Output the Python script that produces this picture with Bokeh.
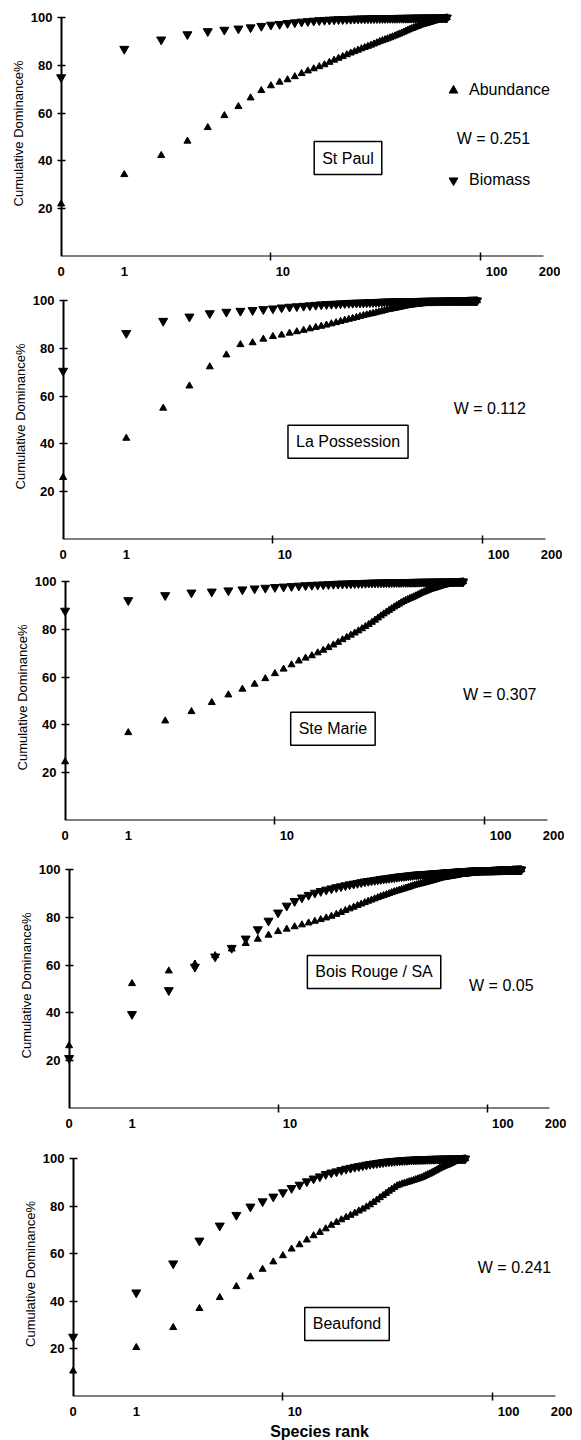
import math
import numpy as np
from bokeh.plotting import figure
from bokeh.layouts import column, row
from bokeh.models import (FixedTicker, Label, Legend, LegendItem, Range1d,
                          LinearAxis, LogAxis, Spacer)
from bokeh.embed import file_html
from bokeh.resources import INLINE

# ---------------- data ----------------
sites = ["St Paul", "La Possession", "Ste Marie", "Bois Rouge / SA", "Beaufond"]
w_values = ["0.251", "0.112", "0.307", "0.05", "0.241"]

abund_st_paul = [22.0, 34.3, 42.3, 48.3, 54.0, 59.0, 62.8, 66.4, 69.5, 71.5,
                 73.0, 74.0, 75.3, 76.6, 77.7, 78.6, 79.5, 80.3, 81.3, 82.2,
                 83.0, 83.7, 84.5, 85.2, 85.8, 86.4, 87.0, 87.5, 88.0, 88.5,
                 89.0, 89.5, 90.0, 90.4, 90.8, 91.2, 91.6, 92.0, 92.4, 92.8,
                 93.2, 93.6, 94.0, 94.4, 94.8, 95.2, 95.5, 95.8, 96.1, 96.4,
                 96.7, 97.0, 97.2, 97.4, 97.6, 97.8, 98.0, 98.2, 98.4, 98.6,
                 98.8, 99.0, 99.2, 99.4, 99.5, 99.6, 99.7, 99.85, 100.0]
biom_st_paul = [75.0, 86.9, 90.8, 93.0, 94.3, 94.9, 95.4, 95.9, 96.5, 97.0,
                97.3, 97.7, 98.0, 98.3, 98.5, 98.7, 98.9, 99.0, 99.1, 99.2,
                99.3, 99.35, 99.4, 99.45, 99.5, 99.55, 99.6, 99.62, 99.65, 99.68,
                99.7, 99.72, 99.74, 99.76, 99.78, 99.8, 99.81, 99.82, 99.83, 99.84,
                99.85, 99.86, 99.87, 99.88, 99.89, 99.9, 99.91, 99.92, 99.93, 99.94,
                99.95, 99.95, 99.96, 99.96, 99.97, 99.97, 99.98, 99.98, 99.98, 99.99,
                99.99, 99.99, 99.99, 100.0, 100.0, 100.0, 100.0, 100.0, 100.0]

abund_la_possession = [26.0, 42.4, 55.0, 64.3, 72.3, 77.3, 81.6, 82.4, 83.9, 85.0,
                       85.6, 86.4, 87.0, 87.6, 88.2, 88.8, 89.3, 89.8, 90.3, 90.8,
                       91.3, 91.8, 92.2, 92.6, 93.0, 93.4, 93.8, 94.1, 94.4, 94.7,
                       95.0, 95.3, 95.6, 95.9, 96.2, 96.4, 96.6, 96.8, 97.0, 97.2,
                       97.4, 97.6, 97.8, 98.0, 98.1, 98.2, 98.3, 98.4, 98.5, 98.6,
                       98.7, 98.8, 98.85, 98.9, 98.95, 99.0, 99.05, 99.1, 99.15, 99.2,
                       99.25, 99.3, 99.33, 99.36, 99.4, 99.43, 99.46, 99.5, 99.53, 99.56,
                       99.6, 99.62, 99.64, 99.66, 99.68, 99.7, 99.72, 99.74, 99.76, 99.78,
                       99.8, 99.82, 99.84, 99.86, 99.88, 99.9, 99.92, 99.94, 99.96, 99.97,
                       99.98, 99.99, 100.0, 100.0]
biom_la_possession = [70.6, 86.4, 91.5, 93.3, 94.7, 95.3, 95.7, 96.0, 96.4, 96.7,
                      97.1, 97.4, 97.6, 97.8, 98.0, 98.2, 98.4, 98.5, 98.6, 98.7,
                      98.8, 98.9, 99.0, 99.05, 99.1, 99.15, 99.2, 99.25, 99.3, 99.35,
                      99.4, 99.45, 99.5, 99.53, 99.56, 99.6, 99.62, 99.64, 99.66, 99.68,
                      99.7, 99.72, 99.74, 99.76, 99.78, 99.8, 99.81, 99.82, 99.83, 99.84,
                      99.85, 99.86, 99.87, 99.88, 99.89, 99.9, 99.9, 99.91, 99.91, 99.92,
                      99.92, 99.93, 99.93, 99.94, 99.94, 99.95, 99.95, 99.96, 99.96, 99.96,
                      99.97, 99.97, 99.97, 99.97, 99.97, 99.98, 99.98, 99.98, 99.98, 99.98,
                      99.98, 99.99, 99.99, 99.99, 99.99, 99.99, 99.99, 100.0, 100.0, 100.0,
                      100.0, 100.0, 100.0, 100.0]

abund_ste_marie = [24.6, 36.8, 41.7, 45.6, 49.4, 52.6, 55.0, 57.1, 59.4, 61.5,
                   63.4, 65.2, 66.8, 68.0, 69.0, 70.2, 71.3, 72.4, 73.5, 74.6,
                   75.7, 76.7, 77.6, 78.5, 79.4, 80.3, 81.2, 82.1, 83.0, 83.9,
                   84.8, 85.7, 86.5, 87.3, 88.0, 88.7, 89.4, 90.0, 90.6, 91.2,
                   91.7, 92.2, 92.6, 93.0, 93.3, 93.7, 94.1, 94.5, 94.9, 95.3,
                   95.6, 95.9, 96.2, 96.5, 96.8, 97.0, 97.2, 97.4, 97.6, 97.8,
                   98.0, 98.2, 98.4, 98.55, 98.7, 98.85, 99.0, 99.1, 99.2, 99.3,
                   99.4, 99.5, 99.6, 99.7, 99.75, 99.8, 99.9, 99.95, 100.0]
biom_ste_marie = [87.8, 92.2, 94.3, 95.4, 95.8, 96.3, 96.7, 97.1, 97.4, 97.7,
                  97.9, 98.1, 98.3, 98.45, 98.6, 98.7, 98.8, 98.9, 99.0, 99.1,
                  99.15, 99.2, 99.25, 99.3, 99.35, 99.4, 99.45, 99.5, 99.53, 99.56,
                  99.6, 99.62, 99.64, 99.66, 99.68, 99.7, 99.72, 99.74, 99.76, 99.78,
                  99.8, 99.81, 99.82, 99.83, 99.84, 99.85, 99.86, 99.87, 99.88, 99.89,
                  99.9, 99.9, 99.91, 99.91, 99.92, 99.92, 99.93, 99.93, 99.94, 99.94,
                  99.95, 99.95, 99.96, 99.96, 99.97, 99.97, 99.98, 99.98, 99.98, 99.99,
                  99.99, 99.99, 99.99, 100.0, 100.0, 100.0, 100.0, 100.0, 100.0]

abund_bois_rouge = [26.3, 52.3, 57.6, 60.5, 64.0, 66.8, 69.1, 70.9, 72.6, 74.1,
                    75.1, 76.1, 76.9, 77.7, 78.4, 79.1, 79.8, 80.5, 81.3, 82.1,
                    82.9, 83.6, 84.3, 85.0, 85.6, 86.2, 86.8, 87.3, 87.8, 88.3,
                    88.8, 89.2, 89.6, 90.0, 90.4, 90.8, 91.1, 91.4, 91.7, 92.0,
                    92.3, 92.6, 92.9, 93.2, 93.5, 93.7, 93.9, 94.1, 94.3, 94.5,
                    94.7, 94.9, 95.1, 95.3, 95.5, 95.7, 95.9, 96.1, 96.3, 96.5,
                    96.6, 96.7, 96.8, 96.9, 97.0, 97.1, 97.2, 97.3, 97.4, 97.5,
                    97.6, 97.7, 97.8, 97.9, 98.0, 98.05, 98.1, 98.15, 98.2, 98.25,
                    98.3, 98.35, 98.4, 98.45, 98.5, 98.55, 98.6, 98.65, 98.7, 98.75,
                    98.8, 98.85, 98.9, 98.93, 98.96, 99.0, 99.03, 99.06, 99.09, 99.12,
                    99.15, 99.18, 99.21, 99.24, 99.27, 99.3, 99.33, 99.36, 99.39, 99.42,
                    99.45, 99.48, 99.5, 99.52, 99.54, 99.56, 99.58, 99.6, 99.62, 99.64,
                    99.66, 99.68, 99.7, 99.72, 99.74, 99.76, 99.78, 99.8, 99.82, 99.84,
                    99.86, 99.88, 99.9, 99.91, 99.92, 99.93, 99.94, 99.95, 99.96, 99.97,
                    99.98, 99.98, 99.99, 99.99, 100.0, 100.0]
biom_bois_rouge = [21.1, 39.5, 49.5, 59.3, 63.6, 67.2, 71.1, 75.0, 78.6, 82.0,
                   84.9, 86.8, 88.3, 89.4, 90.3, 91.0, 91.6, 92.1, 92.6, 93.0,
                   93.4, 93.8, 94.1, 94.4, 94.7, 95.0, 95.2, 95.4, 95.6, 95.8,
                   96.0, 96.2, 96.35, 96.5, 96.65, 96.8, 96.95, 97.1, 97.2, 97.3,
                   97.4, 97.5, 97.6, 97.7, 97.8, 97.9, 97.95, 98.0, 98.05, 98.1,
                   98.15, 98.2, 98.25, 98.3, 98.35, 98.4, 98.45, 98.5, 98.55, 98.6,
                   98.65, 98.7, 98.75, 98.8, 98.84, 98.88, 98.92, 98.96, 99.0, 99.04,
                   99.08, 99.12, 99.16, 99.2, 99.23, 99.26, 99.29, 99.32, 99.35, 99.38,
                   99.41, 99.44, 99.47, 99.5, 99.52, 99.54, 99.56, 99.58, 99.6, 99.62,
                   99.64, 99.66, 99.68, 99.7, 99.71, 99.72, 99.73, 99.74, 99.75, 99.76,
                   99.77, 99.78, 99.79, 99.8, 99.81, 99.82, 99.83, 99.84, 99.85, 99.86,
                   99.87, 99.88, 99.89, 99.9, 99.9, 99.91, 99.91, 99.92, 99.92, 99.93,
                   99.93, 99.94, 99.94, 99.95, 99.95, 99.96, 99.96, 99.97, 99.97, 99.97,
                   99.98, 99.98, 99.98, 99.98, 99.98, 99.99, 99.99, 99.99, 99.99, 99.99,
                   99.99, 100.0, 100.0, 100.0, 100.0, 100.0]

abund_beaufond = [10.7, 20.6, 29.0, 37.0, 41.6, 46.2, 50.3, 53.5, 56.6, 59.2,
                  62.0, 63.8, 65.8, 67.6, 69.0, 70.5, 72.0, 73.2, 74.3, 75.3,
                  76.2, 77.1, 78.0, 78.8, 79.7, 80.6, 81.6, 82.6, 83.6, 84.5,
                  85.4, 86.3, 87.1, 87.9, 88.6, 89.0, 89.4, 89.7, 90.0, 90.3,
                  90.6, 90.9, 91.2, 91.5, 91.8, 92.1, 92.5, 92.9, 93.3, 93.6,
                  94.0, 94.4, 94.8, 95.2, 95.6, 96.0, 96.3, 96.6, 96.9, 97.1,
                  97.4, 97.7, 98.0, 98.3, 98.6, 98.8, 99.0, 99.2, 99.4, 99.6,
                  99.75, 99.85, 99.95, 100.0]
biom_beaufond = [25.1, 43.7, 55.9, 65.5, 71.8, 76.3, 79.8, 82.0, 84.0, 85.8,
                 87.6, 89.0, 90.4, 91.6, 92.5, 93.5, 94.1, 94.6, 95.2, 95.7,
                 96.1, 96.5, 96.8, 97.1, 97.4, 97.7, 97.9, 98.1, 98.3, 98.5,
                 98.65, 98.8, 98.9, 99.0, 99.1, 99.2, 99.27, 99.34, 99.41, 99.48,
                 99.5, 99.55, 99.6, 99.64, 99.68, 99.72, 99.75, 99.78, 99.8, 99.82,
                 99.84, 99.86, 99.87, 99.88, 99.89, 99.9, 99.91, 99.92, 99.93, 99.94,
                 99.95, 99.95, 99.96, 99.96, 99.97, 99.97, 99.98, 99.98, 99.99, 99.99,
                 100.0, 100.0, 100.0, 100.0]

abundance = [abund_st_paul, abund_la_possession, abund_ste_marie, abund_bois_rouge, abund_beaufond]
biomass = [biom_st_paul, biom_la_possession, biom_ste_marie, biom_bois_rouge, biom_beaufond]

x_tick_labels = ["0", "1", "10", "100", "200"]
y_ticks = [20, 40, 60, 80, 100]

# ---------------- layout / styling ----------------
FONT = "Liberation Sans"
X_START, X_END = 0.93, 240.0
Y_END = 103.0
LEFT = 50  # left border of every figure (room for y labels)
# where the printed x labels sit on the rank scale (as in the original figure)
x_label_pos = [1, 2, 11.4, 119, 230]
x_marks = [10, 100]

# (axis x px, px per decade, frame bottom px, figure top px, figure bottom px, frame height)
geom = [
    (61, 210, 256, 0, 282, 246),
    (63, 210, 539, 282, 565, 246),
    (65, 210, 820, 565, 848, 246),
    (69, 209, 1108, 848, 1135, 246),
    (73, 210, 1396, 1135, 1440, 245),
]
# annotation positions (rank, value) for site box and W text
box_pos = [(23.3, 41.2), (22.8, 40.9), (18.9, 38.4), (28.8, 57.2), (20.2, 30.5)]
w_pos = [(115, 49.4), (108, 54.7), (118, 52.6), (117, 51.4), (127, 54.1)]

rows = []
for i in range(5):
    ax_px, dec, fb, ftop, fbot, fh = geom[i]
    mbb = fbot - fb
    mbt = (fb - fh) - ftop
    frame_left = ax_px - dec * (-math.log10(X_START))
    shift = max(int(round(frame_left - LEFT)), 0)
    fw = int(round(dec * (math.log10(X_END) - math.log10(X_START))))

    p = figure(frame_width=fw, frame_height=fh, x_axis_type="log",
               x_range=Range1d(X_START, X_END), y_range=Range1d(0, Y_END),
               output_backend="svg", toolbar_location=None,
               min_border_left=LEFT, min_border_right=0,
               min_border_top=mbt, min_border_bottom=mbb)
    p.outline_line_color = None
    p.grid.visible = False
    p.background_fill_color = "white"

    # ---- x axis: labels and tick marks (line drawn by the axis above) ----
    xa = p.xaxis[0]
    xa.ticker = FixedTicker(ticks=x_label_pos, minor_ticks=x_marks)
    xa.major_label_overrides = {x_label_pos[k]: x_tick_labels[k] for k in range(5)}
    xa.bounds = (1, 230)
    xa.axis_line_color = None
    xa.major_tick_line_color = None
    xa.major_tick_in = 0
    xa.major_tick_out = 0
    xa.minor_tick_in = 4
    xa.minor_tick_out = 4
    xa.minor_tick_line_color = "black"
    xa.minor_tick_line_width = 1.5
    xa.major_label_standoff = 6
    xa.major_label_text_font = FONT
    xa.major_label_text_font_size = "13px"
    xa.major_label_text_font_style = "bold"
    xa.major_label_text_color = "black"
    if i == 4:
        xa.axis_label = "Species rank"
        xa.axis_label_text_font = FONT
        xa.axis_label_text_font_size = "16px"
        xa.axis_label_text_font_style = "bold"
        xa.axis_label_text_color = "black"
        xa.axis_label_standoff = 4

    # x axis line, from rank 1 to 200 at value 0
    xline = LogAxis(ticker=FixedTicker(ticks=[], minor_ticks=[]), bounds=(1, 200),
                    fixed_location=0, axis_line_width=2, axis_line_color="black",
                    major_tick_line_color=None, minor_tick_line_color=None,
                    major_tick_in=0, major_tick_out=0, major_label_standoff=0)
    p.add_layout(xline, "above")

    # ---- y axis: labels (left) ----
    ya = p.yaxis[0]
    ya.ticker = FixedTicker(ticks=y_ticks, minor_ticks=[])
    ya.bounds = (0, 100)
    ya.axis_line_color = None
    ya.major_tick_line_color = None
    ya.minor_tick_line_color = None
    ya.major_tick_in = 0
    ya.major_tick_out = 0
    ya.major_label_standoff = 2
    ya.major_label_text_font = FONT
    ya.major_label_text_font_size = "13px"
    ya.major_label_text_font_style = "bold"
    ya.major_label_text_color = "black"
    ya.axis_label = "Cumulative Dominance%"
    ya.axis_label_text_font = FONT
    ya.axis_label_text_font_size = "13px"
    ya.axis_label_text_font_style = "normal"
    ya.axis_label_text_color = "black"
    ya.axis_label_standoff = 2

    # y axis line + ticks at rank 1
    yline = LinearAxis(ticker=FixedTicker(ticks=y_ticks, minor_ticks=[]),
                       bounds=(0, 100), fixed_location=1,
                       axis_line_width=2, axis_line_color="black",
                       major_tick_in=4, major_tick_out=4,
                       major_tick_line_width=1.5, major_tick_line_color="black",
                       minor_tick_line_color=None, major_label_standoff=0,
                       major_label_overrides={t: "" for t in y_ticks})
    p.add_layout(yline, "right")

    a = abundance[i]
    b = biomass[i]
    ra = p.scatter(np.arange(1, len(a) + 1), a, marker="triangle", size=7,
                   color="black")
    rb = p.scatter(np.arange(1, len(b) + 1), b, marker="inverted_triangle", size=9,
                   color="black")

    bx, by = box_pos[i]
    p.add_layout(Label(x=bx, y=by, text=sites[i], text_align="center",
                       text_baseline="middle", text_font=FONT,
                       text_font_size="16px", text_color="black",
                       border_line_color="black", border_line_width=1.5,
                       background_fill_color="white", padding=8))
    wx, wy = w_pos[i]
    p.add_layout(Label(x=wx, y=wy, text="W = " + w_values[i], text_align="center",
                       text_baseline="middle", text_font=FONT,
                       text_font_size="16px", text_color="black"))

    if i == 0:
        glyph = 22
        legend_top_px = 90 - glyph / 2
        legend_h = 2 * glyph + 68
        vy = int(round(fb - (legend_top_px + legend_h)))
        vx = int(round((453 - glyph / 2) - frame_left))
        leg = Legend(items=[LegendItem(label="Abundance", renderers=[ra]),
                            LegendItem(label="Biomass", renderers=[rb])],
                     location=(vx, vy), orientation="vertical", spacing=68,
                     padding=0, margin=0, border_line_color=None,
                     background_fill_alpha=0, glyph_width=glyph, glyph_height=glyph,
                     label_height=glyph, label_standoff=5,
                     label_text_font=FONT, label_text_font_size="16px",
                     label_text_color="black")
        p.add_layout(leg)

    if shift > 0:
        rows.append(row(Spacer(width=shift, height=fbot - ftop), p, spacing=0))
    else:
        rows.append(p)

layout = column(*rows, spacing=0)
open("out.html", "w").write(file_html(layout, INLINE))
